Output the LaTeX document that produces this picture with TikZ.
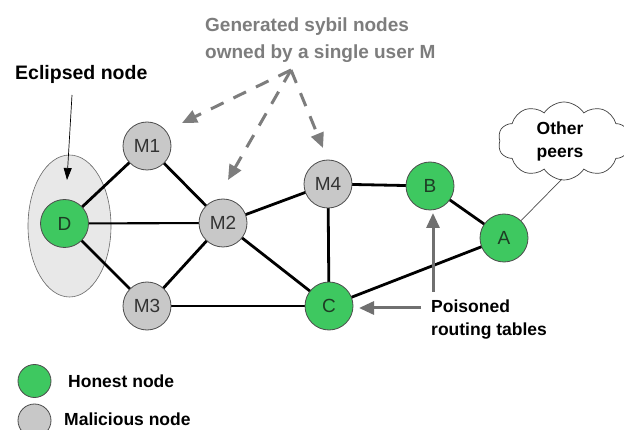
\documentclass[tikz,border=0pt]{standalone}
\usepackage{fontspec}
\setmainfont{Liberation Sans}
\usetikzlibrary{arrows.meta,shapes.symbols,shapes.geometric}
\definecolor{hgreen}{RGB}{62,200,96}
\definecolor{mgray}{RGB}{200,200,200}
\definecolor{elgray}{RGB}{232,232,232}
\definecolor{txtgray}{RGB}{125,125,125}
\definecolor{labgreen}{RGB}{30,60,36}
\begin{document}
\begin{tikzpicture}[x=1pt,y=-1pt,
  honest/.style={circle,draw=black!70,line width=0.8pt,fill=hgreen,minimum size=48pt,inner sep=0pt,font=\fontsize{19}{21}\selectfont,text=labgreen},
  malic/.style={circle,draw=black!70,line width=0.8pt,fill=mgray,minimum size=48pt,inner sep=0pt,font=\fontsize{19}{21}\selectfont,text=black!80},
  edge/.style={line width=2.8pt,black},
  sybil/.style={line width=3pt,txtgray,dash pattern=on 14pt off 11pt,-{Triangle[length=15pt,width=13pt]}},
  poison/.style={line width=3pt,txtgray!90!black,-{Triangle[length=15pt,width=13pt]}},
  btext/.style={font=\bfseries\fontsize{17.5}{21}\selectfont,anchor=base west,inner sep=0pt},
]
\useasboundingbox (0,0) rectangle (624,430);
\fill[white] (0,0) rectangle (624,430);

% ellipse around D
\node[ellipse,draw=black!60,line width=0.6pt,fill=elgray,minimum width=83pt,minimum height=142pt,inner sep=0pt] (ell) at (69.5,226) {};

% node coordinates
\coordinate (pD) at (64.5,223.5);
\coordinate (pM1) at (147,146);
\coordinate (pM2) at (223,223);
\coordinate (pM3) at (147,306);
\coordinate (pM4) at (328,184);
\coordinate (pB) at (430,186);
\coordinate (pA) at (504,238);
\coordinate (pC) at (329,306);

% edges
\draw[edge] (pM1) -- (pD);
\draw[edge] (pM1) -- (pM2);
\draw[line width=2.1pt] (pD) -- (pM2);
\draw[edge] (pD) -- (pM3);
\draw[edge] (pM2) -- (pM3);
\draw[edge] (pM2) -- (pM4);
\draw[edge] (pM2) -- (pC);
\draw[edge] (pM3) -- (pC);
\draw[edge] (pM4) -- (pB);
\draw[edge] (pM4) -- (pC);
\draw[edge] (pB) -- (pA);
\draw[edge] (pC) -- (pA);

% nodes
\node[honest] (D) at (pD) {D};
\node[malic] (M1) at (pM1) {M1};
\node[malic] (M2) at (pM2) {M2};
\node[malic] (M3) at (pM3) {M3};
\node[malic] (M4) at (pM4) {M4};
\node[honest] (B) at (pB) {B};
\node[honest] (A) at (pA) {A};
\node[honest] (C) at (pC) {C};

% eclipsed label
\node[btext,font=\bfseries\fontsize{19.5}{21}\selectfont] (ecl) at (15,80) {Eclipsed node};
\coordinate (eclS) at (72,95);
\coordinate (eclT) at (67,180);
\draw[line width=0.7pt,-{Triangle[length=12pt,width=8pt]}] (eclS) -- (eclT);

% sybil text and arrows
\node[btext,font=\bfseries\fontsize{19}{21}\selectfont,text=txtgray] (gen1) at (205,32) {Generated sybil nodes};
\node[btext,font=\bfseries\fontsize{19}{21}\selectfont,text=txtgray] (gen2) at (205,59) {owned by a single user M};
\coordinate (sy) at (291,70);
\coordinate (t1) at (182,123);
\coordinate (t2) at (228,180);
\coordinate (t4) at (323,148);
\draw[sybil] (sy) -- (t1);
\draw[sybil] (sy) -- (t2);
\draw[sybil] (sy) -- (t4);

% cloud
\node[cloud,cloud puffs=10,cloud puff arc=115,aspect=1.7,draw=black!75,line width=0.7pt,fill=white,minimum width=132pt,minimum height=78pt,inner sep=0pt] (cloud) at (564,141) {};
\node[font=\bfseries\fontsize{17.5}{23}\selectfont,align=center,inner sep=0pt] (peers) at (560,141) {Other\\peers};
\coordinate (cl) at (562,179);
\draw[line width=0.7pt,black!70] (cl) -- (A);

% poisoned
\node[btext] (pois1) at (431,313) {Poisoned};
\node[btext] (pois2) at (431,336) {routing tables};
\coordinate (ps1) at (421,308);
\coordinate (pt1) at (359,308);
\coordinate (ps2) at (433,292);
\coordinate (pt2) at (433,213);
\draw[poison] (ps1) -- (pt1);
\draw[poison] (ps2) -- (pt2);

% legend
\node[circle,draw=black!70,line width=0.8pt,fill=hgreen,minimum size=33pt,inner sep=0pt] (lg1) at (34.5,381) {};
\node[circle,draw=black!70,line width=0.8pt,fill=mgray,minimum size=33pt,inner sep=0pt] (lg2) at (34.5,420.5) {};
\node[btext] (lt1) at (68,387) {Honest node};
\node[btext] (lt2) at (64,425) {Malicious node};
\end{tikzpicture}
\end{document}
